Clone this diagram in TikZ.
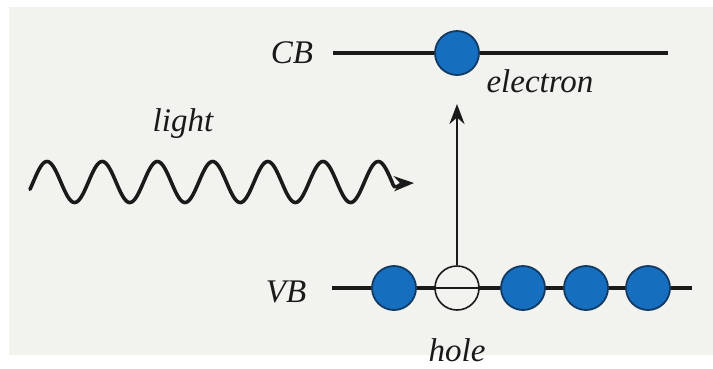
\documentclass[tikz,border=0pt]{standalone}
\usepackage{fontspec}
\setmainfont{Liberation Serif}
\usetikzlibrary{arrows.meta}
\definecolor{bgc}{HTML}{F2F3EF}
\definecolor{eblue}{HTML}{166EBE}
\definecolor{edge}{HTML}{123A63}
\definecolor{ink}{HTML}{1A1A1A}
\tikzset{
  lbl/.style={font=\fontsize{33}{40}\selectfont\itshape, text=ink, inner sep=0pt, anchor=base},
  level/.style={draw=ink, line width=3.6pt},
  elec/.style={circle, fill=eblue, draw=edge, line width=1.8pt, minimum size=44pt, inner sep=0pt},
  holec/.style={circle, fill=bgc, draw=ink, line width=1.6pt, minimum size=44pt, inner sep=0pt},
  wave/.style={draw=ink, line width=3.6pt},
}
\begin{document}
\begin{tikzpicture}[x=1pt,y=-1pt]
\useasboundingbox (0,0) rectangle (713,368);
\fill[white] (0,0) rectangle (713,368);
\fill[bgc] (9,7) rectangle (713,355);
% levels
\coordinate (cbL) at (333,53);
\coordinate (cbR) at (668,53);
\coordinate (vbL) at (332,288);
\coordinate (vbR) at (692,288);
\draw[level] (cbL) -- (cbR);
\draw[level] (vbL) -- (vbR);
% labels
\node[lbl] (cb) at (292,63) {CB};
\node[lbl] (vb) at (286,302) {VB};
\node[lbl] (el) at (540,92) {electron};
\node[lbl] (li) at (183,131) {light};
\node[lbl] (ho) at (457,361) {hole};
% particles
\node[elec] (e0) at (457,53) {};
\node[elec] (v1) at (394,288) {};
\node[holec] (h) at (457,288) {};
\draw[draw=ink, line width=1.6pt] (h.west) -- (h.east);
\node[elec] (v3) at (523,288) {};
\node[elec] (v4) at (586,288) {};
\node[elec] (v5) at (648,288) {};
% excitation arrow
\coordinate (tip) at (457,104);
\draw[draw=ink, line width=2.8pt, -{Stealth[length=20pt,width=15pt]}] (h.north) -- (tip);
% light wave
\coordinate (wtip) at (414,183);
\draw[wave, line cap=round] plot[domain=30:392, samples=300] (\x, {182 - 20.5*sin(6.5217*(\x-33.2))})
  .. controls (395,192) and (399,184) .. (403,183.5);
\draw[wave, -{Stealth[length=20pt,width=15pt]}] (400,183.5) -- (wtip);
\end{tikzpicture}
\end{document}
